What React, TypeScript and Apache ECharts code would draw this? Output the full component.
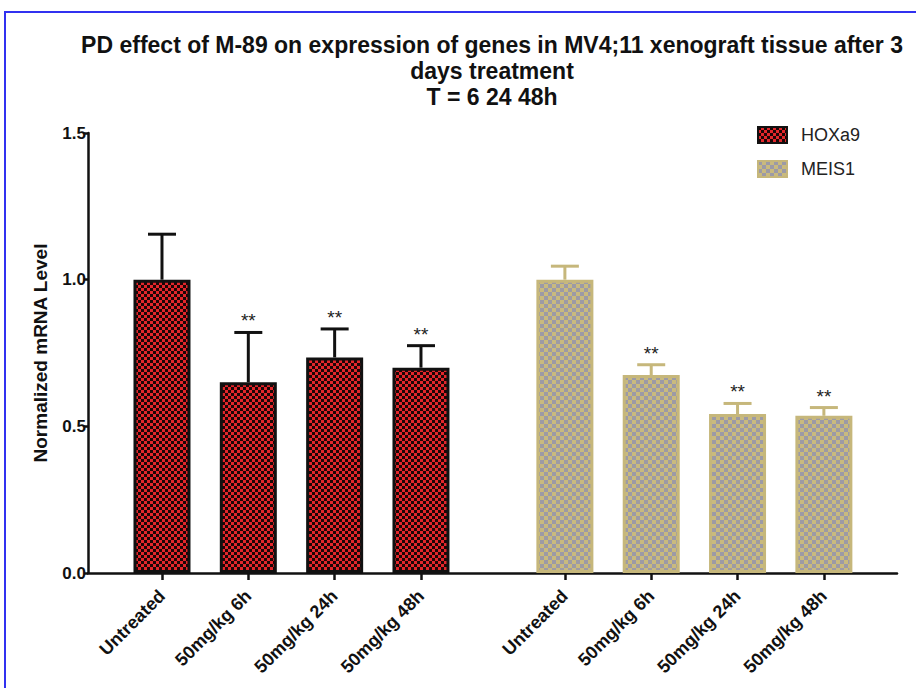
import React, { useEffect, useRef } from "react";
import * as echarts from "echarts";

const categories = ["Untreated", "50mg/kg 6h", "50mg/kg 24h", "50mg/kg 48h"];
const seriesNames = ["HOXa9", "MEIS1"];
const hoxa9Mean = [1.0, 0.65, 0.735, 0.7];
const hoxa9Err = [0.155, 0.17, 0.097, 0.075];
const hoxa9Sig = ["", "**", "**", "**"];
const meis1Mean = [1.0, 0.675, 0.542, 0.536];
const meis1Err = [0.046, 0.035, 0.036, 0.028];
const meis1Sig = ["", "**", "**", "**"];
const yTicks = [0, 0.5, 1.0, 1.5];
const titleLines = [
  "PD effect of M-89 on expression of genes in MV4;11 xenograft tissue after 3",
  "days treatment",
  "T = 6 24 48h",
];
const yAxisTitle = "Normalized mRNA Level";

const FONT = '"Liberation Sans", Arial, Helvetica, sans-serif';
const GROUP_STEP = 4.667;
const pos = (g: number, i: number) => g * GROUP_STEP + i;
const positions = [0, 1].flatMap((g) => categories.map((_, i) => pos(g, i)));

function checker(a: string, b: string, cell: number) {
  const c = document.createElement("canvas");
  c.width = cell * 2;
  c.height = cell * 2;
  const ctx = c.getContext("2d")!;
  ctx.fillStyle = a;
  ctx.fillRect(0, 0, cell * 2, cell * 2);
  ctx.fillStyle = b;
  ctx.fillRect(0, 0, cell, cell);
  ctx.fillRect(cell, cell, cell, cell);
  return { image: c, repeat: "repeat", imageWidth: cell * 2, imageHeight: cell * 2 };
}

export default function App() {
  const ref = useRef<HTMLDivElement>(null);
  useEffect(() => {
    if (!ref.current) return;
    const chart = echarts.init(ref.current, null, { renderer: "svg" });
    const redPattern = checker("#e3262b", "#1c0606", 3);
    const tanPattern = checker("#c9ba7e", "#9c9aa6", 4);
    const RED_EDGE = "#111";
    const TAN_EDGE = "#c6b77b";

    const errSeries = (g: number, mean: number[], err: number[], sig: string[], color: string) => ({
      type: "custom",
      name: seriesNames[g] + " err",
      z: 5,
      encode: { x: 0, y: 1 },
      data: mean.map((m, i) => [pos(g, i), m, m + err[i]]),
      renderItem: (params: any, api: any) => {
        const x = api.value(0);
        const p0 = api.coord([x, api.value(1)]);
        const p1 = api.coord([x, api.value(2)]);
        const s = sig[params.dataIndex];
        const children: any[] = [
          { type: "line", shape: { x1: p0[0], y1: p0[1], x2: p1[0], y2: p1[1] }, style: { stroke: color, lineWidth: 3 } },
          { type: "line", shape: { x1: p1[0] - 14, y1: p1[1], x2: p1[0] + 14, y2: p1[1] }, style: { stroke: color, lineWidth: 3 } },
        ];
        if (s) {
          children.push({
            type: "text",
            x: p1[0],
            y: p1[1] - 2,
            style: { text: s, textAlign: "center", textVerticalAlign: "bottom", font: `19px ${FONT}`, fill: "#222" },
          });
        }
        return { type: "group", children };
      },
    });

    chart.setOption({
      animation: false,
      backgroundColor: "#fff",
      graphic: [
        {
          type: "rect",
          shape: { x: 5, y: 12, width: 1000, height: 1000 },
          style: { fill: "none", stroke: "#3131f0", lineWidth: 2 },
        },
        ...titleLines.map((t, i) => ({
          type: "text",
          x: 492,
          y: 45 + i * 26,
          style: { text: t, textAlign: "center", textVerticalAlign: "middle", font: `bold 23px ${FONT}`, fill: "#111" },
        })),
      ],
      legend: {
        data: seriesNames,
        orient: "vertical",
        left: 752,
        top: 121,
        icon: "rect",
        itemWidth: 29,
        itemHeight: 16,
        itemGap: 16,
        textStyle: { fontFamily: FONT, fontSize: 18, color: "#222", padding: [0, 0, 0, 9] },
      },
      grid: { left: 88, right: 19, top: 133, bottom: 115, containLabel: false },
      xAxis: {
        type: "value",
        min: -0.857,
        max: 8.514,
        splitLine: { show: false },
        axisLine: { show: true, onZero: false, lineStyle: { color: "#111", width: 2.5 } },
        axisTick: { show: true, customValues: positions, length: 7, lineStyle: { color: "#111", width: 2.5 } },
        axisLabel: {
          customValues: positions,
          rotate: 45,
          margin: 20,
          fontFamily: FONT,
          fontWeight: "bold",
          fontSize: 18,
          color: "#111",
          formatter: (v: number) => {
            const k = positions.findIndex((p) => Math.abs(p - v) < 0.01);
            return k < 0 ? "" : categories[k % categories.length];
          },
        },
      },
      yAxis: {
        type: "value",
        min: yTicks[0],
        max: yTicks[yTicks.length - 1],
        interval: 0.5,
        name: yAxisTitle,
        nameLocation: "middle",
        nameRotate: 90,
        nameGap: 38,
        nameTextStyle: { fontFamily: FONT, fontWeight: "bold", fontSize: 19, color: "#111" },
        splitLine: { show: false },
        axisLine: { show: true, onZero: false, lineStyle: { color: "#111", width: 2.5 } },
        axisTick: { show: true, length: 4, lineStyle: { color: "#111", width: 2.5 } },
        axisLabel: {
          show: true,
          margin: 2,
          fontFamily: FONT,
          fontWeight: "bold",
          fontSize: 17,
          color: "#111",
          formatter: (v: number) => v.toFixed(1),
        },
      },
      series: [
        {
          type: "bar",
          name: seriesNames[0],
          barWidth: 57,
          barGap: "-100%",
          data: hoxa9Mean.map((m, i) => [pos(0, i), m]),
          itemStyle: { color: redPattern, borderColor: RED_EDGE, borderWidth: 3 },
        },
        {
          type: "bar",
          name: seriesNames[1],
          barWidth: 57,
          barGap: "-100%",
          data: meis1Mean.map((m, i) => [pos(1, i), m]),
          itemStyle: { color: tanPattern, borderColor: TAN_EDGE, borderWidth: 3 },
        },
        errSeries(0, hoxa9Mean, hoxa9Err, hoxa9Sig, RED_EDGE),
        errSeries(1, meis1Mean, meis1Err, meis1Sig, TAN_EDGE),
      ],
    });
    return () => chart.dispose();
  }, []);
  return (
    <div
      ref={ref}
      style={{ position: "fixed", left: 0, top: 0, width: 916, height: 688, background: "#fff" }}
    />
  );
}
